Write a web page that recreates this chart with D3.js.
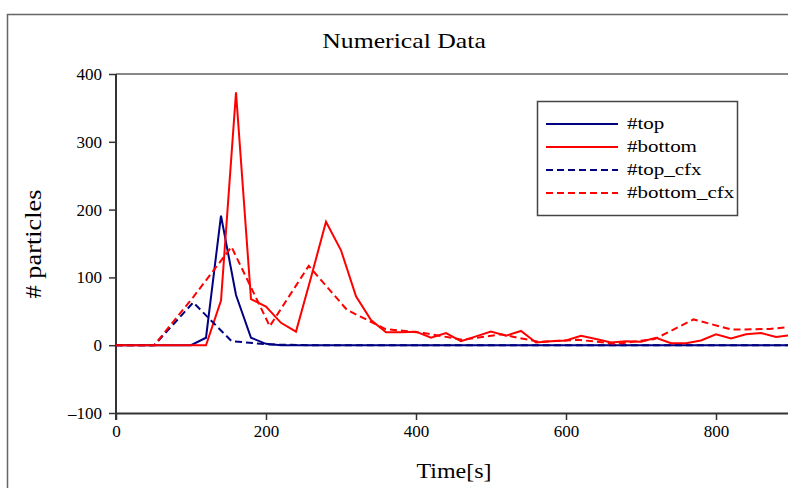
<!DOCTYPE html>
<html>
<head>
<meta charset="utf-8">
<script src="https://cdn.jsdelivr.net/npm/d3@7"></script>
<style>
  body { margin: 0; background: #fff; }
  svg text { font-family: "Palatino Linotype", "Book Antiqua", Palatino, "Liberation Serif", serif; fill: #000; }
</style>
</head>
<body>
<div id="chart"></div>
<script>
// solid series sampled every 20 s
const times = [0, 20, 40, 60, 80, 100, 120, 140, 160, 180, 200, 220, 240, 260, 280, 300, 320, 340, 360, 380,
               400, 420, 440, 460, 480, 500, 520, 540, 560, 580, 600, 620, 640, 660, 680, 700, 720, 740, 760, 780,
               800, 820, 840, 860, 880, 900];
const topVals = [0, 0, 0, 0, 0, 0, 11, 191, 74, 11, 2, 0, 0, 0, 0, 0, 0, 0, 0, 0,
                 0, 0, 0, 0, 0, 0, 0, 0, 0, 0, 0, 0, 0, 0, 0, 0, 0, 0, 0, 0,
                 0, 0, 0, 0, 0, 0];
const bottomVals = [0, 0, 0, 0, 0, 0, 0, 66, 373, 68, 57, 33, 20, 100, 182, 140, 72, 37, 19, 19,
                    20, 11, 18, 6, 13, 20, 14, 21, 4, 6, 7, 14, 9, 4, 6, 5, 11, 3, 3, 7,
                    16, 10, 16, 18, 12, 15];

// cfx series (coarser time step)
const cfxTimes = [0, 51, 103, 154, 205, 257, 308, 359, 410, 462, 513, 564, 616, 667, 718, 770, 821, 872, 924];
const topCfxVals = [0, 0, 63, 6, 1, 0, 0, 0, 0, 0, 0, 0, 0, 0, 0, 0, 0, 0, 0];
const bottomCfxVals = [0, 0, 71, 145, 28, 117, 52, 24, 18, 8, 16, 5, 8, 2, 9, 38, 23, 24, 30];

const xTicks = [0, 200, 400, 600, 800];
const yTicks = [-100, 0, 100, 200, 300, 400];

const series = [
  { name: "#top", t: times, v: topVals, color: "#000080", dash: null },
  { name: "#bottom", t: times, v: bottomVals, color: "#ff0000", dash: null },
  { name: "#top_cfx", t: cfxTimes, v: topCfxVals, color: "#000080", dash: "7,4" },
  { name: "#bottom_cfx", t: cfxTimes, v: bottomCfxVals, color: "#ff0000", dash: "7,4" }
];

const W = 788, H = 488;
const margin = { left: 116, top: 74, right: -3, bottom: 75 };
const stretch = 1.17; // widen the serif fallback a bit, closer to Palatino

const svg = d3.select("#chart").append("svg")
  .attr("width", W)
  .attr("height", H);

// outer frame
svg.append("rect")
  .attr("x", 7.5).attr("y", 14.5)
  .attr("width", W + 20).attr("height", H + 20)
  .attr("fill", "none")
  .attr("stroke", "#666")
  .attr("stroke-width", 1.5);

const x = d3.scaleLinear().domain([0, 900]).range([margin.left, W - margin.right]);
const y = d3.scaleLinear().domain([-100, 400]).range([H - margin.bottom, margin.top]);

// top border line of the plot box
svg.append("line")
  .attr("x1", margin.left).attr("x2", W + 10)
  .attr("y1", y(400)).attr("y2", y(400))
  .attr("stroke", "#888").attr("stroke-width", 2);

// x axis
const gx = svg.append("g")
  .attr("transform", "translate(0," + y(-100) + ")")
  .call(d3.axisBottom(x).tickValues(xTicks).tickSize(7).tickPadding(5).tickSizeOuter(0));
gx.select(".domain").attr("stroke", "#333").attr("stroke-width", 2);
gx.selectAll(".tick line").attr("stroke", "#333").attr("stroke-width", 1.5);
gx.selectAll(".tick text").style("font-size", "17px");

// y axis
const gy = svg.append("g")
  .attr("transform", "translate(" + margin.left + ",0)")
  .call(d3.axisLeft(y).tickValues(yTicks).tickSize(7).tickPadding(7).tickSizeOuter(0)
    .tickFormat(d => d < 0 ? "\u2013" + Math.abs(d) : d));
gy.select(".domain").attr("stroke", "#333").attr("stroke-width", 2)
  .attr("d", "M0," + y(400) + "V" + (y(-100) + 7));
gy.selectAll(".tick line").attr("stroke", "#333").attr("stroke-width", 1.5);
gy.selectAll(".tick text").style("font-size", "17px");

// lines
const plot = svg.append("g");
series.forEach(s => {
  const pts = s.t.map((t, i) => [t, s.v[i]]);
  plot.append("path")
    .datum(pts)
    .attr("fill", "none")
    .attr("stroke", s.color)
    .attr("stroke-width", 2)
    .attr("stroke-dasharray", s.dash)
    .attr("d", d3.line().x(d => x(d[0])).y(d => y(d[1])));
});

// title and axis labels
svg.append("text")
  .attr("transform", "translate(404,48) scale(" + stretch + ",1)")
  .attr("text-anchor", "middle")
  .style("font-size", "22px")
  .text("Numerical Data");

svg.append("text")
  .attr("transform", "translate(454,478) scale(" + stretch + ",1)")
  .attr("text-anchor", "middle")
  .style("font-size", "20.5px")
  .text("Time[s]");

svg.append("text")
  .attr("transform", "translate(41,244) rotate(-90) scale(" + stretch + ",1)")
  .attr("text-anchor", "middle")
  .style("font-size", "22.5px")
  .text("# particles");

// legend
const legend = svg.append("g").attr("transform", "translate(537,101)");
legend.append("rect")
  .attr("x", 0.5).attr("y", 0.5)
  .attr("width", 200).attr("height", 114)
  .attr("fill", "#fff")
  .attr("stroke", "#444")
  .attr("stroke-width", 1.5);

series.forEach((s, i) => {
  const ly = 23 + i * 23;
  legend.append("line")
    .attr("x1", 9).attr("x2", 81)
    .attr("y1", ly).attr("y2", ly)
    .attr("stroke", s.color)
    .attr("stroke-width", 2)
    .attr("stroke-dasharray", s.dash);
  legend.append("text")
    .attr("transform", "translate(90," + (ly + 5) + ") scale(1.2,1)")
    .style("font-size", "17.5px")
    .text(s.name);
});
</script>
</body>
</html>
